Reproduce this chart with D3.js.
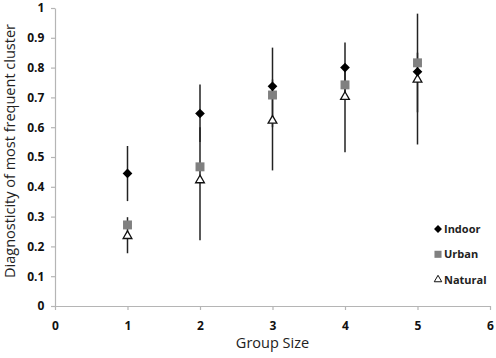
<!DOCTYPE html>
<html>
<head>
<meta charset="utf-8">
<script src="https://cdn.jsdelivr.net/npm/d3@7"></script>
<style>
  body { margin: 0; background: #fff; }
  svg text { font-family: "Open Sans", sans-serif; }
</style>
</head>
<body>
<div id="vis"></div>
<script>
const svgWidth = 496;
const svgHeight = 358;

// data
const groupSizes = [1, 2, 3, 4, 5];
const indoor = [0.445, 0.646, 0.737, 0.800, 0.786];
const urban = [0.272, 0.467, 0.708, 0.742, 0.816];
const natural = [0.235, 0.422, 0.622, 0.702, 0.760];

// error bars (low / high) - two overlapping sets
const indoorLow = [0.352, 0.550, 0.600, 0.700, 0.650];
const indoorHigh = [0.537, 0.743, 0.867, 0.884, 0.981];
const naturalLow = [0.177, 0.221, 0.455, 0.516, 0.542];
const naturalHigh = [0.298, 0.600, 0.760, 0.800, 0.850];

const xTicks = [0, 1, 2, 3, 4, 5, 6];
const yTicks = [0, 0.1, 0.2, 0.3, 0.4, 0.5, 0.6, 0.7, 0.8, 0.9, 1];

const legendItems = ['Indoor', 'Urban', 'Natural'];

const margin = { top: 8, right: 6, bottom: 52, left: 55 };

const svg = d3.select('#vis').append('svg').attr('width', svgWidth).attr('height', svgHeight);

const x = d3.scaleLinear().domain([0, 6]).range([margin.left, svgWidth - margin.right]);
const y = d3.scaleLinear().domain([0, 1]).range([svgHeight - margin.bottom, margin.top]);

const xAxis = d3.axisBottom(x).tickValues(xTicks).tickSize(4).tickSizeOuter(0).tickFormat(d3.format('d'));
const yAxis = d3.axisLeft(y).tickValues(yTicks).tickSize(4).tickSizeOuter(0).tickFormat((d) => (d === 0 || d === 1 ? d : d.toFixed(1)));

const gx = svg.append('g').attr('transform', `translate(0, ${y(0)})`).call(xAxis);
const gy = svg.append('g').attr('transform', `translate(${x(0)}, 0)`).call(yAxis);

[gx, gy].forEach((g) => {
  g.select('.domain').attr('stroke', '#b5b5b5').attr('stroke-width', 1.2);
  g.selectAll('.tick line').attr('stroke', '#b5b5b5').attr('stroke-width', 1.2);
  g.selectAll('.tick text').attr('fill', '#111').attr('font-size', 12).attr('font-weight', 'bold');
});
gx.selectAll('.tick text').attr('dy', '1.4em');
gy.selectAll('.tick text').attr('dx', '-0.3em');

// axis titles
svg.append('text')
  .attr('x', x(3))
  .attr('y', 348)
  .attr('text-anchor', 'middle')
  .attr('font-size', 14.5)
  .attr('fill', '#222')
  .text('Group Size');

svg.append('text')
  .attr('transform', 'translate(15, 151) rotate(-90)')
  .attr('text-anchor', 'middle')
  .attr('font-size', 14.5)
  .attr('fill', '#222')
  .text('Diagnosticity of most frequent cluster');

// error bars
const bars = svg.append('g');
const drawBars = (low, high) => {
  bars.selectAll(null)
    .data(groupSizes)
    .join('line')
    .attr('x1', (d) => x(d))
    .attr('x2', (d) => x(d))
    .attr('y1', (d, i) => y(low[i]))
    .attr('y2', (d, i) => y(high[i]))
    .attr('stroke', '#222')
    .attr('stroke-width', 1.5);
};
drawBars(indoorLow, indoorHigh);
drawBars(naturalLow, naturalHigh);

const diamond = d3.symbol().type(d3.symbolDiamond2).size(60);
const square = d3.symbol().type(d3.symbolSquare).size(80);
const triangle = d3.symbol().type(d3.symbolTriangle2).size(55);

const pts = svg.append('g');
pts.selectAll(null)
  .data(natural)
  .join('path')
  .attr('d', triangle)
  .attr('transform', (d, i) => `translate(${x(groupSizes[i])}, ${y(d)})`)
  .attr('fill', '#fff')
  .attr('stroke', '#111')
  .attr('stroke-width', 1.3);
pts.selectAll(null)
  .data(urban)
  .join('path')
  .attr('d', square)
  .attr('transform', (d, i) => `translate(${x(groupSizes[i])}, ${y(d)})`)
  .attr('fill', '#808080');
pts.selectAll(null)
  .data(indoor)
  .join('path')
  .attr('d', diamond)
  .attr('transform', (d, i) => `translate(${x(groupSizes[i])}, ${y(d)})`)
  .attr('fill', '#000');

// legend
const legend = svg.append('g').attr('transform', 'translate(438, 229)');
const legendSymbols = [
  { sym: d3.symbol().type(d3.symbolDiamond2).size(40), fill: '#000', stroke: 'none' },
  { sym: d3.symbol().type(d3.symbolSquare).size(50), fill: '#808080', stroke: 'none' },
  { sym: d3.symbol().type(d3.symbolTriangle2).size(40), fill: '#fff', stroke: '#111' },
];
legendItems.forEach((name, i) => {
  const row = legend.append('g').attr('transform', `translate(0, ${i * 25.3})`);
  row.append('path')
    .attr('d', legendSymbols[i].sym)
    .attr('fill', legendSymbols[i].fill)
    .attr('stroke', legendSymbols[i].stroke)
    .attr('stroke-width', 1);
  row.append('text')
    .attr('x', 6)
    .attr('y', 4)
    .attr('font-size', 11)
    .attr('font-weight', 'bold')
    .attr('fill', '#222')
    .text(name);
});
</script>
</body>
</html>
